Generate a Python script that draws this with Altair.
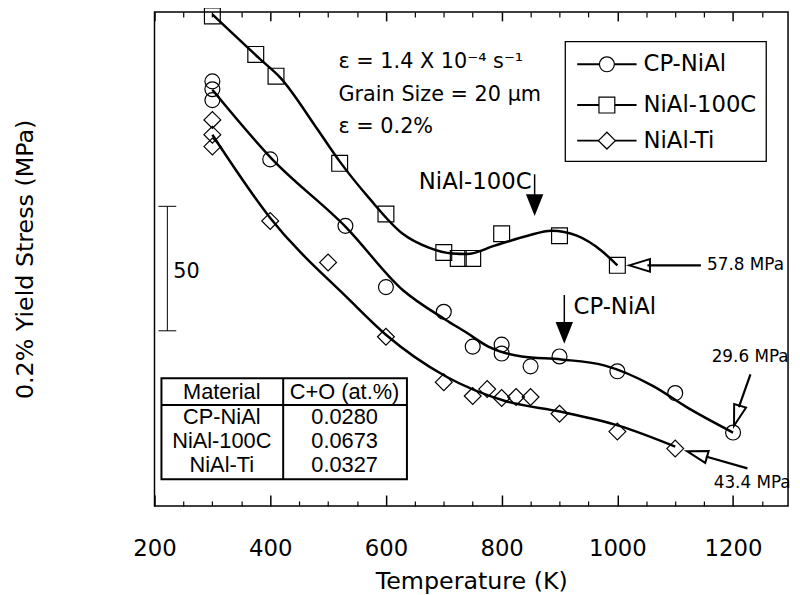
import altair as alt
import pandas as pd

# ---------------- data ----------------
SERIES = ["CP-NiAl", "NiAl-100C", "NiAl-Ti"]

CP_T = [300, 300, 300, 400, 530, 600, 700, 750, 800, 800, 850, 900, 1000, 1100, 1200]
CP_S = [171.9, 168.7, 164.3, 140.3, 113.4, 88.6, 78.6, 64.5, 65.3, 61.7, 56.5, 60.5, 54.5, 45.7, 29.7]

C100_T = [300, 375, 410, 520, 600, 700, 725, 750, 800, 900, 1000]
C100_S = [198.4, 182.8, 174.0, 138.7, 118.2, 102.6, 100.2, 100.2, 110.2, 109.4, 97.4]

TI_T = [300, 300, 300, 400, 500, 600, 700, 750, 775, 800, 825, 850, 900, 1000, 1100]
TI_S = [156.3, 150.3, 145.5, 115.4, 98.6, 68.5, 50.1, 44.5, 47.3, 43.7, 44.1, 44.1, 37.3, 30.1, 23.2]

# fitted curves
CP_CURVE_T = [300, 402, 532, 629, 703, 737, 777, 835, 903, 977, 1062, 1119, 1200]
CP_CURVE_S = [168.5, 140.7, 112.6, 87.4, 75.4, 70.5, 64.5, 60.5, 59.3, 56.9, 48.5, 40.1, 29.7]

C100_CURVE_T = [300, 383, 417, 481, 520, 571, 629, 674, 715, 740, 788, 845, 886, 930, 972, 1000]
C100_CURVE_S = [199.0, 180.8, 173.5, 152.7, 139.5, 124.6, 110.2, 104.6, 102.2, 102.0, 105.4, 109.4, 111.4, 109.4, 103.4, 97.4]

TI_CURVE_T = [300, 400, 537, 600, 703, 806, 903, 1002, 1100]
TI_CURVE_S = [150.3, 116.6, 83.4, 69.3, 52.5, 42.5, 38.1, 32.5, 24.0]

MAJOR_TICKS = [200, 400, 600, 800, 1000, 1200]
MINOR_TICKS = [250, 300, 350, 450, 500, 550, 650, 700, 750, 850, 900, 950, 1050, 1100, 1150, 1250]

NOTE_LINES = ["ε = 1.4 X 10⁻⁴ s⁻¹", "Grain Size = 20 μm", "ε = 0.2%"]
ARROW_LABELS = ["NiAl-100C", "CP-NiAl"]
MPA_LABELS = ["57.8 MPa", "29.6 MPa", "43.4 MPa"]
TABLE_HEADER = ["Material", "C+O (at.%)"]
CO_CONTENT = ["0.0280", "0.0673", "0.0327"]
SCALE_BAR_LABEL = "50"

# ---------------- helpers ----------------
FONT = "DejaVu Sans"
TFONT = "Liberation Sans"
XS = alt.Scale(domain=[200, 1295], nice=False, zero=False)
YS = alt.Scale(domain=[0, 200], nice=False, zero=False)


def X(field="T", axis=None):
    return alt.X(f"{field}:Q", scale=XS, axis=axis)


def Y(field="S", axis=None):
    return alt.Y(f"{field}:Q", scale=YS, axis=axis)


axis_bottom = alt.Axis(orient="bottom", values=MAJOR_TICKS, offset=-11, tickSize=11, tickWidth=1.5,
                       tickColor="black", domain=False, grid=False, labelFont=FONT, labelFontSize=23,
                       labelColor="black", labelPadding=32, labelFlush=False, format="d",
                       title="Temperature (K)", titleFont=FONT, titleFontSize=24,
                       titleFontWeight="normal", titleColor="black", titlePadding=9)
axis_bottom_minor = alt.Axis(orient="bottom", values=MINOR_TICKS, offset=-5, tickSize=5, tickWidth=1.2,
                             tickColor="black", domain=False, grid=False, labels=False, title=None)
axis_top = alt.Axis(orient="top", values=MAJOR_TICKS, offset=-9, tickSize=9, tickWidth=1.5,
                    tickColor="black", domain=False, grid=False, labels=False, title=None)
axis_top_minor = alt.Axis(orient="top", values=MINOR_TICKS, offset=-5, tickSize=5, tickWidth=1.2,
                          tickColor="black", domain=False, grid=False, labels=False, title=None)
axis_y = alt.Axis(title="0.2% Yield Stress (MPa)", labels=False, ticks=False, domain=False, grid=False,
                  titleFont=FONT, titleFontSize=24, titleFontWeight="normal", titleColor="black",
                  titlePadding=118)

# ---------------- layers ----------------
curves_df = pd.DataFrame({
    "T": CP_CURVE_T + C100_CURVE_T + TI_CURVE_T,
    "S": CP_CURVE_S + C100_CURVE_S + TI_CURVE_S,
    "series": [SERIES[0]] * len(CP_CURVE_T) + [SERIES[1]] * len(C100_CURVE_T) + [SERIES[2]] * len(TI_CURVE_T),
})

curves = alt.Chart(curves_df).mark_line(color="black", strokeWidth=2.5, interpolate="monotone").encode(
    x=X(axis=axis_bottom), y=Y(axis=axis_y), detail="series:N")

SHAPES = {"CP-NiAl": ("circle", 227), "NiAl-100C": ("square", 256), "NiAl-Ti": ("diamond", 289)}


def pts(ts, ss, name, axis=None):
    shape, size = SHAPES[name]
    return alt.Chart(pd.DataFrame({"T": ts, "S": ss})).mark_point(
        shape=shape, size=size, filled=False, color="black", strokeWidth=1.2, opacity=1
    ).encode(x=X(axis=axis), y=Y())


p_cp = pts(CP_T, CP_S, "CP-NiAl", axis_bottom_minor)
p_100 = pts(C100_T, C100_S, "NiAl-100C")
p_ti = pts(TI_T, TI_S, "NiAl-Ti")

# legend
LEG_Y = [178.8, 162.3, 147.9]
legend_box = alt.Chart(pd.DataFrame({"T": [910.0], "T2": [1257.3], "S": [188.0], "S2": [139.5]})).mark_rect(
    fillOpacity=0, stroke="black", strokeWidth=1.3).encode(
    x=X(axis=axis_top), x2="T2:Q", y=Y(), y2="S2:Q")
legend_lines = alt.Chart(pd.DataFrame({"T": [930.6] * 3, "T2": [1033.2] * 3, "S": LEG_Y})).mark_rule(
    color="black", strokeWidth=2).encode(x=X(), x2="T2:Q", y=Y())
legend_syms = [
    alt.Chart(pd.DataFrame({"T": [981.9], "S": [LEG_Y[i]]})).mark_point(
        shape=SHAPES[n][0], size=SHAPES[n][1], filled=True, fill="white", stroke="black",
        strokeWidth=1.2, opacity=1).encode(x=X(), y=Y())
    for i, n in enumerate(SERIES)
]
legend_text = alt.Chart(pd.DataFrame({"T": [1045.2] * 3, "S": LEG_Y, "label": SERIES})).mark_text(
    align="left", baseline="middle", font=FONT, fontSize=23, color="black").encode(
    x=X(), y=Y(), text="label:N")

# condition notes
notes = alt.Chart(pd.DataFrame({"T": [518.0] * 3, "S": [179.6, 166.3, 153.5], "label": NOTE_LINES})).mark_text(
    align="left", baseline="middle", font=FONT, fontSize=21, color="black").encode(
    x=X(), y=Y(), text="label:N")

# arrow annotations (filled, pointing down)
arrow_text = alt.Chart(pd.DataFrame({"T": [754.3, 995.6], "S": [131.1, 80.6], "label": ARROW_LABELS})).mark_text(
    align="center", baseline="middle", font=FONT, fontSize=23, color="black").encode(
    x=X(), y=Y(), text="label:N")
arrow_shaft = alt.Chart(pd.DataFrame({"T": [857.0, 908.3], "S": [134.3, 85.4], "S2": [121.0, 70.0]})).mark_rule(
    color="black", strokeWidth=1.5).encode(x=X(), y=Y(), y2="S2:Q")
arrow_head = alt.Chart(pd.DataFrame({"T": [857.0, 908.3], "S": [121.8, 70.1]})).mark_point(
    shape="M-0.8,-1L0.8,-1L0,1Z", size=484, filled=True, color="black", opacity=1).encode(x=X(), y=Y())

# MPa call-outs (open heads)
mpa_text = alt.Chart(pd.DataFrame({"T": [1221.5, 1229.5, 1233.0], "S": [97.4, 60.1, 9.2], "label": MPA_LABELS})).mark_text(
    align="center", baseline="middle", font=FONT, fontSize=17, color="black").encode(
    x=X(), y=Y(), text="label:N")
mpa_shaft = alt.Chart(pd.DataFrame({"T": [1144.4, 1230.0, 1224.8], "S": [97.4, 53.3, 15.2],
                                    "T2": [1052.0, 1210.0, 1153.0], "S2": [97.4, 40.0, 20.0]})).mark_rule(
    color="black", strokeWidth=2.2).encode(x=X(), y=Y(), x2="T2:Q", y2="S2:Q")
mpa_head = alt.Chart(pd.DataFrame({"T": [1038.4, 1206.9, 1137.6], "S": [97.4, 36.5, 21.0],
                                   "angle": [0, 287, 16]})).mark_point(
    shape="M-1,0L1,-0.6L1,0.6Z", size=440, filled=False, color="black", strokeWidth=2, opacity=1).encode(
    x=X(), y=Y(), angle=alt.Angle("angle:Q", scale=None))

# scale bar
bar_v = alt.Chart(pd.DataFrame({"T": [222.2], "S": [121.3], "S2": [70.9]})).mark_rule(
    color="black", strokeWidth=1).encode(x=X(), y=Y(), y2="S2:Q")
bar_caps = alt.Chart(pd.DataFrame({"T": [206.8, 206.8], "T2": [237.6, 237.6], "S": [121.3, 70.9]})).mark_rule(
    color="black", strokeWidth=1).encode(x=X(), x2="T2:Q", y=Y())
bar_text = alt.Chart(pd.DataFrame({"T": [232.5], "S": [94.6], "label": [SCALE_BAR_LABEL]})).mark_text(
    align="left", baseline="middle", font=FONT, fontSize=21, color="black").encode(
    x=X(), y=Y(), text="label:N")

# table
table_box = alt.Chart(pd.DataFrame({"T": [212.0], "T2": [636.3], "S": [51.7], "S2": [10.8]})).mark_rect(
    fillOpacity=0, stroke="black", strokeWidth=2).encode(
    x=X(axis=axis_top_minor), x2="T2:Q", y=Y(), y2="S2:Q")
table_hline = alt.Chart(pd.DataFrame({"T": [212.0], "T2": [636.3], "S": [40.9]})).mark_rule(
    color="black", strokeWidth=2).encode(x=X(), x2="T2:Q", y=Y())
table_vline = alt.Chart(pd.DataFrame({"T": [422.4], "S": [51.7], "S2": [10.8]})).mark_rule(
    color="black", strokeWidth=2).encode(x=X(), y=Y(), y2="S2:Q")
ROW_S = [36.1, 26.1, 16.4]
table_text = alt.Chart(pd.DataFrame({
    "T": [316.3, 528.5] + [316.3] * 3 + [528.5] * 3,
    "S": [46.1, 46.1] + ROW_S + ROW_S,
    "label": TABLE_HEADER + SERIES + CO_CONTENT,
})).mark_text(align="center", baseline="middle", font=TFONT, fontSize=22, color="black").encode(
    x=X(), y=Y(), text="label:N")

chart = alt.layer(
    curves, p_cp, p_100, p_ti,
    legend_box, legend_lines, *legend_syms, legend_text,
    notes, arrow_text, arrow_shaft, arrow_head,
    mpa_text, mpa_shaft, mpa_head,
    bar_v, bar_caps, bar_text,
    table_box, table_hline, table_vline, table_text,
).resolve_axis(x="independent", y="independent").properties(
    width=640, height=499,
    autosize=alt.AutoSizeParams(type="none"),
    padding={"left": 148, "top": 1, "right": 4, "bottom": 86},
    background="white",
).configure_view(stroke="black", strokeWidth=1.5)

chart.save("out.html", embed_options={"renderer": "svg", "actions": False})
